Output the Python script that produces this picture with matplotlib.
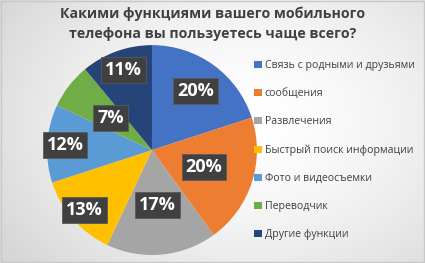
import numpy as np
import matplotlib.pyplot as plt
from matplotlib.patches import Patch, Rectangle

plt.rcParams['font.family'] = ['Open Sans', 'DejaVu Sans']

title = 'Какими функциями вашего мобильного\nтелефона вы пользуетесь чаще всего?'
categories = ['Связь с родными и друзьями', 'сообщения', 'Развлечения',
              'Быстрый поиск информации', 'Фото и видеосъемки', 'Переводчик',
              'Другие функции']
values = [20, 20, 17, 13, 12, 7, 11]
colors = ['#4472C4', '#ED7D31', '#A5A5A5', '#FFC000', '#5B9BD5', '#70AD47', '#264478']
# how far from the centre each data label sits (fraction of radius)
label_dist = [0.70, 0.52, 0.53, 0.86, 0.83, 0.50, 0.81]

fig = plt.figure(figsize=(4.25, 2.63), dpi=100)

# soft grey-to-white background
bg = fig.add_axes([0, 0, 1, 1])
yy, xx = np.mgrid[0:263, 0:425]
d = np.sqrt(((xx - 250) / 300.0) ** 2 + ((yy - 120) / 220.0) ** 2)
shade = 1.0 - 0.16 * np.clip(d, 0, 1) ** 1.6
bg.imshow(np.dstack([shade] * 3), aspect='auto', extent=[0, 1, 0, 1])
bg.add_patch(Rectangle((0.002, 0.003), 0.995, 0.993, fill=False, ec='#c8c8c8', lw=1))
bg.set_xlim(0, 1)
bg.set_ylim(0, 1)
bg.axis('off')

fig.text(0.5, 0.975, title, ha='center', va='top', fontsize=10.2,
         fontweight='bold', color='#404040', linespacing=1.55)

ax = fig.add_axes([0.1106, 0.0304, 0.494, 0.798])
wedges, _ = ax.pie(values, colors=colors, startangle=90, counterclock=False,
                   wedgeprops=dict(linewidth=0))
ax.set_xlim(-1, 1)
ax.set_ylim(-1, 1)
ax.set_aspect('equal')

for w, v, dist in zip(wedges, values, label_dist):
    ang = np.deg2rad((w.theta1 + w.theta2) / 2)
    ax.text(dist * np.cos(ang), dist * np.sin(ang), f'{v}%', ha='center', va='center',
            fontsize=13, fontweight='bold', color='white',
            bbox=dict(boxstyle='square,pad=0.22', fc='#404040', ec='#5a5a5a', lw=0.6))

handles = [Patch(facecolor=c, edgecolor='none') for c in colors]
leg = fig.legend(handles, categories, loc='upper left', bbox_to_anchor=(0.588, 0.787),
                 frameon=False, fontsize=7.6, labelspacing=1.62, handlelength=0.7,
                 handleheight=0.7, handletextpad=0.3, borderaxespad=0)
for t in leg.get_texts():
    t.set_color('#404040')

fig.savefig('out.png', dpi=100)
